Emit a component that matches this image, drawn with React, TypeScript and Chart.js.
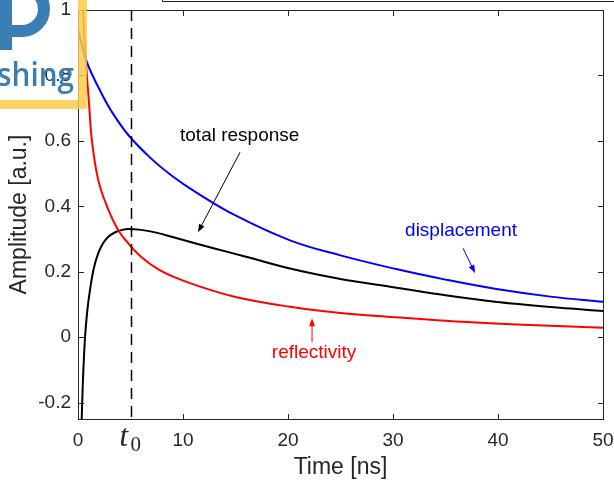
import React, { useEffect, useRef } from 'react';
import { Chart, registerables } from 'chart.js';

Chart.register(...registerables);

// ---- data ----
const DISP_T = [0, 0.83, 2, 3.2, 4.79, 7, 9, 11.14, 15, 20.19, 25, 30.19, 35, 39.71, 45, 50];
const DISP_V = [0.94, 0.842, 0.76, 0.69, 0.618, 0.545, 0.492, 0.445, 0.372, 0.296, 0.25, 0.209, 0.176, 0.148, 0.124, 0.108];

const REFL_T = [0.35, 0.55, 0.83, 1.05, 1.33, 1.93, 2.76, 3.82, 4.79, 6, 7.65, 9, 11.14, 15, 20.19, 25, 30.19, 35, 39.71, 45, 50];
const REFL_V = [1.1, 0.95, 0.807, 0.715, 0.6, 0.48, 0.4, 0.328, 0.287, 0.246, 0.207, 0.186, 0.16, 0.123, 0.093, 0.074, 0.061, 0.05, 0.042, 0.035, 0.029];

const TOTAL_T = [0.3, 0.35, 0.5, 0.67, 0.9, 1.14, 1.5, 1.93, 2.4, 2.89, 3.5, 4.2, 4.79, 6, 7.65, 9, 11.14, 13, 16, 20.19, 25, 30.19, 35, 39.71, 45, 50];
const TOTAL_V = [-0.33, -0.253, -0.11, 0.0, 0.085, 0.144, 0.21, 0.257, 0.288, 0.307, 0.32, 0.328, 0.331, 0.328, 0.318, 0.306, 0.287, 0.271, 0.246, 0.21, 0.178, 0.152, 0.128, 0.108, 0.092, 0.08];

const X_TICKS = [0, 10, 20, 30, 40, 50];
const X_TICK_LABELS = ['0', '10', '20', '30', '40', '50'];
const Y_TICKS = [-0.2, 0, 0.2, 0.4, 0.6, 0.8, 1];
const Y_TICK_LABELS = ['-0.2', '0', '0.2', '0.4', '0.6', '0.8', '1'];
const T0 = 5;

const X_TITLE = 'Time [ns]';
const Y_TITLE = 'Amplitude [a.u.]';

const FONT = '"Liberation Sans", Arial, Helvetica, sans-serif';
const AXIS_COLOR = '#262626';

// annotation texts with arrows (data coordinates)
const ANNOTATIONS = [
  { text: 'total response', color: '#000000', tx: 15.4, ty: 0.617, x0: 15.43, y0: 0.565, x1: 11.43, y1: 0.321 },
  { text: 'displacement', color: '#0000ff', tx: 36.48, ty: 0.324, x0: 36.67, y0: 0.272, x1: 37.81, y1: 0.196 },
  { text: 'reflectivity', color: '#ff0000', tx: 22.48, ty: -0.049, x0: 22.29, y0: -0.015, x1: 22.29, y1: 0.058 },
];

const toXY = (ts: number[], vs: number[]) => ts.map((t, i) => ({ x: t, y: vs[i] }));

const overlayPlugin = {
  id: 'overlay',
  afterDatasetsDraw(chart: any) {
    const { ctx, chartArea: a, scales } = chart;
    const xs = scales.x;
    const ys = scales.y;
    ctx.save();

    // dashed t0 line
    const px = Math.round(xs.getPixelForValue(T0)) + 0.5;
    ctx.strokeStyle = '#000';
    ctx.lineWidth = 1.5;
    ctx.setLineDash([11, 7]);
    ctx.beginPath();
    ctx.moveTo(px, a.top);
    ctx.lineTo(px, a.bottom);
    ctx.stroke();
    ctx.setLineDash([]);

    // box
    const L = Math.round(a.left) + 0.5;
    const R = Math.round(a.right) + 0.5;
    const T = Math.round(a.top) + 0.5;
    const B = Math.round(a.bottom) + 0.5;
    ctx.strokeStyle = AXIS_COLOR;
    ctx.lineWidth = 1;
    ctx.strokeRect(L, T, R - L, B - T);

    // inward ticks
    const tl = 5.5;
    ctx.beginPath();
    X_TICKS.forEach((v) => {
      const p = Math.round(xs.getPixelForValue(v)) + 0.5;
      ctx.moveTo(p, B); ctx.lineTo(p, B - tl);
      ctx.moveTo(p, T); ctx.lineTo(p, T + tl);
    });
    Y_TICKS.forEach((v) => {
      const p = Math.round(ys.getPixelForValue(v)) + 0.5;
      ctx.moveTo(L, p); ctx.lineTo(L + tl, p);
      ctx.moveTo(R, p); ctx.lineTo(R - tl, p);
    });
    ctx.stroke();

    // t0 label
    ctx.fillStyle = AXIS_COLOR;
    ctx.textAlign = 'left';
    ctx.textBaseline = 'alphabetic';
    const cx = xs.getPixelForValue(T0);
    ctx.font = 'italic 31px "Liberation Serif", "DejaVu Serif", serif';
    ctx.fillText('t', cx - 11, B + 26);
    ctx.font = '21px "Liberation Serif", "DejaVu Serif", serif';
    ctx.fillText('0', cx + 0, B + 31);

    // annotations
    ANNOTATIONS.forEach((an) => {
      ctx.fillStyle = an.color;
      ctx.strokeStyle = an.color;
      ctx.font = `19px ${FONT}`;
      ctx.textAlign = 'center';
      ctx.textBaseline = 'middle';
      ctx.fillText(an.text, xs.getPixelForValue(an.tx), ys.getPixelForValue(an.ty));
      const ax0 = xs.getPixelForValue(an.x0), ay0 = ys.getPixelForValue(an.y0);
      const ax1 = xs.getPixelForValue(an.x1), ay1 = ys.getPixelForValue(an.y1);
      const ang = Math.atan2(ay1 - ay0, ax1 - ax0);
      const hl = 8, hw = 3;
      ctx.lineWidth = 1;
      ctx.beginPath();
      ctx.moveTo(ax0, ay0);
      ctx.lineTo(ax1 - Math.cos(ang) * hl * 0.8, ay1 - Math.sin(ang) * hl * 0.8);
      ctx.stroke();
      ctx.beginPath();
      ctx.moveTo(ax1, ay1);
      ctx.lineTo(ax1 - Math.cos(ang) * hl - Math.sin(ang) * hw, ay1 - Math.sin(ang) * hl + Math.cos(ang) * hw);
      ctx.lineTo(ax1 - Math.cos(ang) * hl + Math.sin(ang) * hw, ay1 - Math.sin(ang) * hl - Math.cos(ang) * hw);
      ctx.closePath();
      ctx.fill();
    });
    ctx.restore();
  },
  afterDraw(chart: any) {
    const { ctx } = chart;
    ctx.save();
    // top partial box (cropped element)
    ctx.strokeStyle = '#222';
    ctx.lineWidth = 1;
    ctx.beginPath();
    ctx.moveTo(162.5, 0);
    ctx.lineTo(162.5, 1.5);
    ctx.lineTo(614, 1.5);
    ctx.stroke();

    // publisher watermark
    const blue = 'rgb(58,126,180)';
    ctx.fillStyle = blue;
    ctx.strokeStyle = blue;
    ctx.fillRect(0, 0, 12, 50);
    ctx.lineWidth = 12;
    ctx.beginPath();
    ctx.moveTo(6, 31);
    ctx.lineTo(22, 31);
    ctx.arc(22, 9, 22, Math.PI / 2, -Math.PI / 2, true);
    ctx.lineTo(6, -13);
    ctx.stroke();

    ctx.save();
    ctx.translate(74, 86);
    ctx.scale(0.9, 1);
    ctx.font = '600 33px "Open Sans", "Noto Sans", sans-serif';
    ctx.textAlign = 'right';
    ctx.textBaseline = 'alphabetic';
    ctx.fillText('shing', 0, 0);
    ctx.restore();

    ctx.fillStyle = 'rgba(253,204,72,0.85)';
    ctx.fillRect(78, 0, 9, 109);
    ctx.fillRect(0, 100, 78, 9);
    ctx.restore();
  },
};

export default function App() {
  const ref = useRef<HTMLCanvasElement | null>(null);

  useEffect(() => {
    if (!ref.current) return;
    const chart = new Chart(ref.current, {
      type: 'line',
      data: {
        datasets: [
          {
            label: 'displacement',
            data: toXY(DISP_T, DISP_V),
            borderColor: '#0000ff',
            borderWidth: 2,
            pointRadius: 0,
            tension: 0.4,
            clip: 0,
          },
          {
            label: 'reflectivity',
            data: toXY(REFL_T, REFL_V),
            borderColor: '#ff0000',
            borderWidth: 2,
            pointRadius: 0,
            tension: 0.4,
            clip: 0,
          },
          {
            label: 'total response',
            data: toXY(TOTAL_T, TOTAL_V),
            borderColor: '#000000',
            borderWidth: 2,
            pointRadius: 0,
            cubicInterpolationMode: 'monotone',
            clip: 0,
          },
        ],
      },
      options: {
        animation: false,
        responsive: false,
        devicePixelRatio: 1,
        layout: { padding: { left: 0, top: 10, right: 11, bottom: 0 } },
        plugins: { legend: { display: false }, tooltip: { enabled: false } },
        scales: {
          x: {
            type: 'linear',
            min: 0,
            max: 50,
            grid: { display: false, drawTicks: false },
            border: { display: false },
            afterBuildTicks: (s: any) => { s.ticks = X_TICKS.map((v) => ({ value: v })); },
            afterFit: (s: any) => { s.height = 66; s.paddingLeft = 0; s.paddingRight = 0; },
            ticks: {
              padding: 10,
              color: AXIS_COLOR,
              font: { family: FONT, size: 19 },
              maxRotation: 0,
              autoSkip: false,
              callback: (v: any) => {
                const i = X_TICKS.indexOf(Number(v));
                return i >= 0 ? X_TICK_LABELS[i] : '';
              },
            },
            title: {
              display: true,
              text: X_TITLE,
              color: AXIS_COLOR,
              font: { family: FONT, size: 23 },
              padding: { top: 0, bottom: 4 },
            },
          },
          y: {
            type: 'linear',
            min: -0.25,
            max: 1,
            grid: { display: false, drawTicks: false },
            border: { display: false },
            afterBuildTicks: (s: any) => { s.ticks = Y_TICKS.map((v) => ({ value: v })); },
            afterFit: (s: any) => { s.width = 78; s.paddingTop = 0; s.paddingBottom = 0; },
            ticks: {
              padding: 7,
              color: AXIS_COLOR,
              font: { family: FONT, size: 19 },
              autoSkip: false,
              callback: (v: any) => {
                const i = Y_TICKS.findIndex((t) => Math.abs(t - Number(v)) < 1e-9);
                return i >= 0 ? Y_TICK_LABELS[i] : '';
              },
            },
            title: {
              display: true,
              text: Y_TITLE,
              color: AXIS_COLOR,
              font: { family: FONT, size: 23 },
              padding: { top: 6, bottom: 0 },
            },
          },
        },
      },
      plugins: [overlayPlugin],
    } as any);
    return () => chart.destroy();
  }, []);

  return (
    <div style={{ position: 'fixed', left: 0, top: 0, width: 614, height: 485, background: '#fff' }}>
      <canvas ref={ref} width={614} height={485} style={{ display: 'block' }} />
    </div>
  );
}
